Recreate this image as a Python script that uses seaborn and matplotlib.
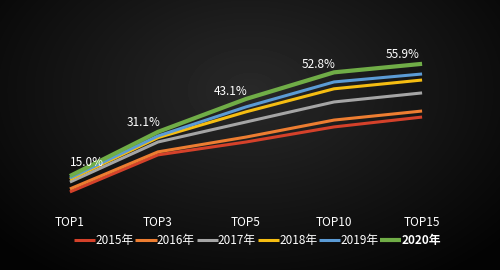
import numpy as np
import pandas as pd
import matplotlib
matplotlib.use("Agg")
import matplotlib.pyplot as plt
import seaborn as sns
from matplotlib.lines import Line2D

categories = ["TOP1", "TOP3", "TOP5", "TOP10", "TOP15"]
years = ["2015年", "2016年", "2017年", "2018年", "2019年", "2020年"]
v2015 = [9.2, 22.7, 27.4, 32.9, 36.5]
v2016 = [10.3, 23.8, 29.2, 35.4, 38.7]
v2017 = [12.8, 27.4, 34.7, 42.0, 45.3]
v2018 = [13.8, 29.0, 38.4, 46.8, 50.0]
v2019 = [14.3, 29.6, 40.2, 49.3, 52.2]
v2020 = [15.0, 31.1, 43.1, 52.8, 55.9]
series = [v2015, v2016, v2017, v2018, v2019, v2020]
colors = ["#d4412a", "#ed7d31", "#a5a5a5", "#f5bd12", "#5b9bd5", "#70ad47"]

rows = []
for y, vals in zip(years, series):
    for c, v in zip(categories, vals):
        rows.append({"cat": c, "year": y, "val": v})
df = pd.DataFrame(rows)
df["x"] = df["cat"].map({c: i for i, c in enumerate(categories)})

sns.set_theme(style="dark")
plt.rcParams['font.family'] = ['Noto Sans CJK SC', 'DejaVu Sans']

fig = plt.figure(figsize=(5, 2.7), dpi=100)
# background gradient
bg = fig.add_axes([0, 0, 1, 1], zorder=-10)
yy, xx = np.mgrid[0:270, 0:500]
d = np.sqrt(((xx - 250) / 300.0) ** 2 + ((yy - 90) / 200.0) ** 2)
img = np.clip(0.16 - 0.13 * d, 0.015, 0.2)
bg.imshow(img, cmap="gray", vmin=0, vmax=1, aspect="auto", extent=[0, 1, 0, 1])
bg.axis("off")

ax = fig.add_axes([0.087, 0.216, 0.81, 0.64])
ax.set_facecolor("none")
sns.lineplot(data=df, x="x", y="val", hue="year", hue_order=years,
             palette=colors, ax=ax, legend=False, sort=False)
for i, line in enumerate(ax.get_lines()):
    line.set_linewidth(3.0 if i == 5 else 2.2)
    line.set_solid_capstyle("butt")
    line.set_solid_joinstyle("round")

offsets = [(12, 5), (-10, 2), (-11, 1), (-11, 1), (-14, 2)]
for i, (v, off) in enumerate(zip(v2020, offsets)):
    ax.annotate(f"{v:.1f}%", (i, v), xytext=off, textcoords="offset points",
                ha="center", va="bottom", color="white", fontsize=8.5)

ax.set_xlim(-0.3, 4.3)
ax.set_ylim(2, 65)
ax.set_xticks(range(len(categories)))
ax.set_xticklabels(categories, color="white", fontsize=8.5)
ax.set_yticks([])
ax.set_xlabel("")
ax.set_ylabel("")
ax.tick_params(axis="x", length=0, pad=3)
for s in ax.spines.values():
    s.set_visible(False)
ax.grid(False)

handles = [Line2D([0], [0], color=c, lw=(3.0 if i == 5 else 2.2), solid_capstyle="butt")
           for i, c in enumerate(colors)]
leg = fig.legend(handles, years, loc="center", bbox_to_anchor=(0.515, 0.11), ncol=6,
                 frameon=False, fontsize=8.5, handlelength=1.8, handletextpad=0.0,
                 columnspacing=0.15)
for i, t in enumerate(leg.get_texts()):
    t.set_color("white")
    if i == 5:
        t.set_fontweight("bold")

fig.savefig("out.png", dpi=100)
